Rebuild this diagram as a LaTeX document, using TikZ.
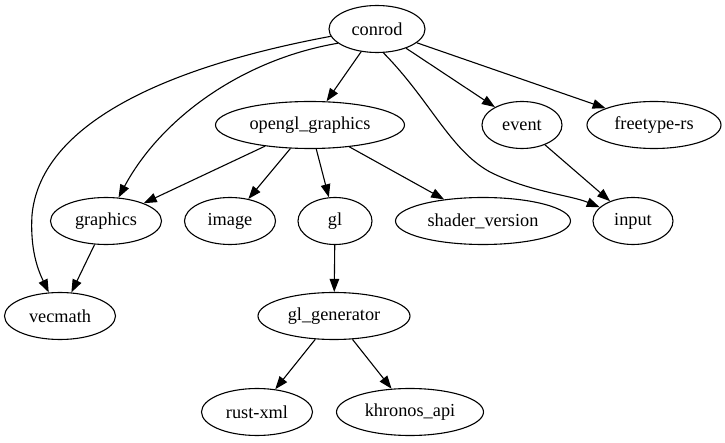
\documentclass[tikz,border=0pt]{standalone}
\usepackage{fontspec}
\setmainfont{Liberation Serif}
\usetikzlibrary{shapes.geometric,arrows.meta}

\begin{document}
\begin{tikzpicture}[x=1pt,y=-1pt,
    pkg/.style={draw, ellipse, line width=1.1pt, inner sep=0pt, minimum height=47pt,
      font=\fontsize{18.3}{20}\selectfont},
    dep/.style={-{Triangle[length=13pt,width=9.5pt]}, line width=1.1pt}]
    \useasboundingbox (0,0) rectangle (725,443);

    \node[pkg, minimum width=96pt] (conrod) at (377,29) {conrod};
    \node[pkg, minimum width=189pt] (opengl) at (310,125) {opengl\_graphics};
    \node[pkg, minimum width=80pt] (event) at (522,125) {event};
    \node[pkg, minimum width=134pt] (freetype) at (654,125) {freetype-rs};
    \node[pkg, minimum width=111pt] (graphics) at (106,221) {graphics};
    \node[pkg, minimum width=91pt] (image) at (230,221) {image};
    \node[pkg, minimum width=74pt] (gl) at (335,221) {gl};
    \node[pkg, minimum width=175pt] (shader) at (483,221) {shader\_version};
    \node[pkg, minimum width=80pt] (input) at (633,221) {input};
    \node[pkg, minimum width=111pt] (vecmath) at (60,316) {vecmath};
    \node[pkg, minimum width=152pt] (glgen) at (334,316) {gl\_generator};
    \node[pkg, minimum width=111pt] (rustxml) at (257,412) {rust-xml};
    \node[pkg, minimum width=147pt] (khronos) at (410,412) {khronos\_api};

    \draw[dep] (conrod.189) .. controls (150,70) and (40,130) .. (32,215)
      .. controls (30,250) and (38,270) .. (vecmath);
    \draw[dep] (conrod.200) .. controls (240,60) and (160,120) .. (graphics);
    \draw[dep] (conrod) -- (opengl);
    \draw[dep] (conrod.285) .. controls (430,100) and (450,150) .. (490,172)
      .. controls (530,192) and (570,195) .. (input);
    \draw[dep] (conrod) -- (event);
    \draw[dep] (conrod) -- (freetype);
    \draw[dep] (opengl) -- (graphics);
    \draw[dep] (opengl) -- (image);
    \draw[dep] (opengl) -- (gl);
    \draw[dep] (opengl) -- (shader);
    \draw[dep] (event) -- (input);
    \draw[dep] (graphics) -- (vecmath);
    \draw[dep] (gl) -- (glgen);
    \draw[dep] (glgen) -- (rustxml);
    \draw[dep] (glgen) -- (khronos);
\end{tikzpicture}
\end{document}
